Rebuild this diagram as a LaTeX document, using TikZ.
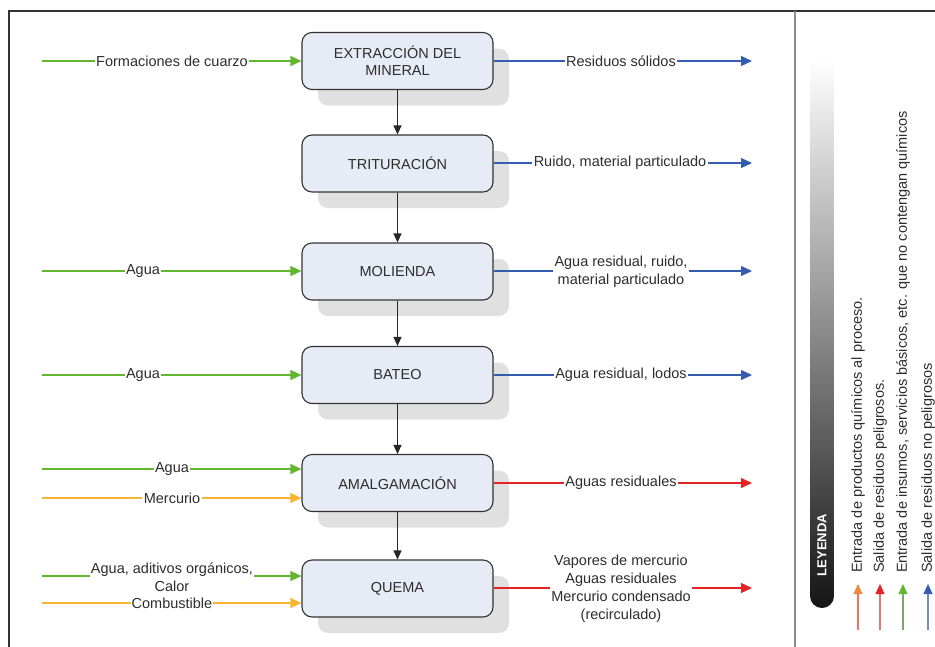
\documentclass[tikz,border=0pt]{standalone}
\usepackage{fontspec}
\setmainfont{Liberation Sans}
\usetikzlibrary{arrows.meta,shadows}
\definecolor{gcol}{RGB}{98,182,48}
\definecolor{bcol}{RGB}{52,92,176}
\definecolor{rcol}{RGB}{228,36,36}
\definecolor{ycol}{RGB}{248,180,50}
\definecolor{ocol}{RGB}{238,138,66}
\definecolor{boxfill}{RGB}{231,235,246}
\definecolor{txt}{RGB}{45,45,45}
\begin{document}
\begin{tikzpicture}[x=1pt,y=-1pt,
  stepbox/.style={draw=black!80, line width=1.1pt, fill=boxfill, rounded corners=10pt,
    minimum width=191pt, minimum height=57pt, align=center, text=txt,
    font=\fontsize{14.5}{17}\selectfont,
    drop shadow={shadow xshift=16pt, shadow yshift=-16pt, fill=black!12, opacity=1}},
  lbl/.style={fill=white, inner sep=1.5pt, text=txt, align=center, font=\fontsize{14.5}{18}\selectfont},
  tip/.style={-{Triangle[length=11pt,width=10pt]}},
  down/.style={black!85, line width=1.1pt, -{Triangle[length=9pt,width=8pt]}},
  gin/.style={gcol, line width=1.2pt, tip},
  yin/.style={ycol, line width=1.2pt, tip},
  bout/.style={bcol, line width=1.2pt, tip},
  rout/.style={rcol, line width=1.2pt, tip},
  legtxt/.style={rotate=90, anchor=west, inner sep=0pt, text=txt, font=\fontsize{14.5}{17}\selectfont},
  legarr/.style={line width=1.2pt}
]
\useasboundingbox (0,0) rectangle (935,646);
\clip (0,0) rectangle (935,646);
% frame
\draw[black!80, line width=2pt] (9,11) rectangle (980,700);
\draw[black!45, line width=2pt] (795,11) -- (795,700);

% process boxes
\node[stepbox] (ext) at (397.5,61) {EXTRACCIÓN DEL\\MINERAL};
\node[stepbox] (tri) at (397.5,163.5) {TRITURACIÓN};
\node[stepbox] (mol) at (397.5,271.5) {MOLIENDA};
\node[stepbox] (bat) at (397.5,375) {BATEO};
\node[stepbox] (ama) at (397.5,483) {AMALGAMACIÓN};
\node[stepbox] (que) at (397.5,588.5) {QUEMA};

\draw[down] (ext) -- (tri);
\draw[down] (tri) -- (mol);
\draw[down] (mol) -- (bat);
\draw[down] (bat) -- (ama);
\draw[down] (ama) -- (que);

% inputs (free ends)
\coordinate (i1) at (42,61);
\coordinate (i2) at (42,271);
\coordinate (i3) at (42,375);
\coordinate (i4) at (42,469);
\coordinate (i5) at (42,498);
\coordinate (i6) at (42,576);
\coordinate (i7) at (42,603);
\draw[gin] (i1) -- (ext.west |- i1);
\draw[gin] (i2) -- (mol.west |- i2);
\draw[gin] (i3) -- (bat.west |- i3);
\draw[gin] (i4) -- (ama.west |- i4);
\draw[yin] (i5) -- (ama.west |- i5);
\draw[gin] (i6) -- (que.west |- i6);
\draw[yin] (i7) -- (que.west |- i7);

% outputs (free ends)
\coordinate (o1) at (752,61);
\coordinate (o2) at (752,163);
\coordinate (o3) at (752,271);
\coordinate (o4) at (752,375);
\coordinate (o5) at (752,483);
\coordinate (o6) at (752,588);
\draw[bout] (ext.east |- o1) -- (o1);
\draw[bout] (tri.east |- o2) -- (o2);
\draw[bout] (mol.east |- o3) -- (o3);
\draw[bout] (bat.east |- o4) -- (o4);
\draw[rout] (ama.east |- o5) -- (o5);
\draw[rout] (que.east |- o6) -- (o6);

% input labels
\node[lbl] (li1) at (172,61) {Formaciones de cuarzo};
\node[lbl] (li2) at (143,271) {Agua};
\node[lbl] (li3) at (143,375) {Agua};
\node[lbl] (li4) at (172,469) {Agua};
\node[lbl] (li5) at (172,498) {Mercurio};
\node[lbl, inner sep=0.5pt] (li6) at (172,577) {Agua, aditivos orgánicos,\\Calor};
\node[lbl, inner sep=0.5pt] (li7) at (172,603) {Combustible};

% output labels
\node[lbl] (lo1) at (621,61) {Residuos sólidos};
\node[lbl] (lo2) at (620,163) {Ruido, material particulado};
\node[lbl] (lo3) at (621,271.5) {Agua residual, ruido,\\material particulado};
\node[lbl] (lo4) at (621,375) {Agua residual, lodos};
\node[lbl] (lo5) at (621,483) {Aguas residuales};
\node[lbl] (lo6) at (621,588.5) {Vapores de mercurio\\Aguas residuales\\Mercurio condensado\\(recirculado)};

% legend
\path[top color=white, middle color=black!50, bottom color=black!92]
  (810,60) -- (810,596) arc[start angle=180, end angle=0, radius=12] -- (834,60) -- cycle;
\node[rotate=90, text=white, font=\bfseries\fontsize{13}{13}\selectfont] (ley) at (822,545) {LEYENDA};

\node[legtxt] (l1) at (858,573) {Entrada de productos químicos al proceso.};
\node[legtxt] (l2) at (880,573) {Salida de residuos peligrosos.};
\node[legtxt] (l3) at (903,573) {Entrada de insumos, servicios básicos, etc. que no contengan químicos};
\node[legtxt] (l4) at (928,573) {Salida de residuos no peligrosos};

\coordinate (a1s) at (858,630); \coordinate (a1e) at (858,584);
\coordinate (a2s) at (880,630); \coordinate (a2e) at (880,584);
\coordinate (a3s) at (903,630); \coordinate (a3e) at (903,584);
\coordinate (a4s) at (928,630); \coordinate (a4e) at (928,584);
\draw[legarr, draw=rcol!55!ocol!80, -{Triangle[length=10pt,width=9pt,color=ocol,fill=ocol]}] (a1s) -- (a1e);
\draw[legarr, draw=rcol!65, -{Triangle[length=10pt,width=9pt,color=rcol,fill=rcol]}] (a2s) -- (a2e);
\draw[legarr, draw=gcol!70!black!70, -{Triangle[length=10pt,width=9pt,color=gcol,fill=gcol]}] (a3s) -- (a3e);
\draw[legarr, draw=bcol!70, -{Triangle[length=10pt,width=9pt,color=bcol,fill=bcol]}] (a4s) -- (a4e);
\end{tikzpicture}
\end{document}
